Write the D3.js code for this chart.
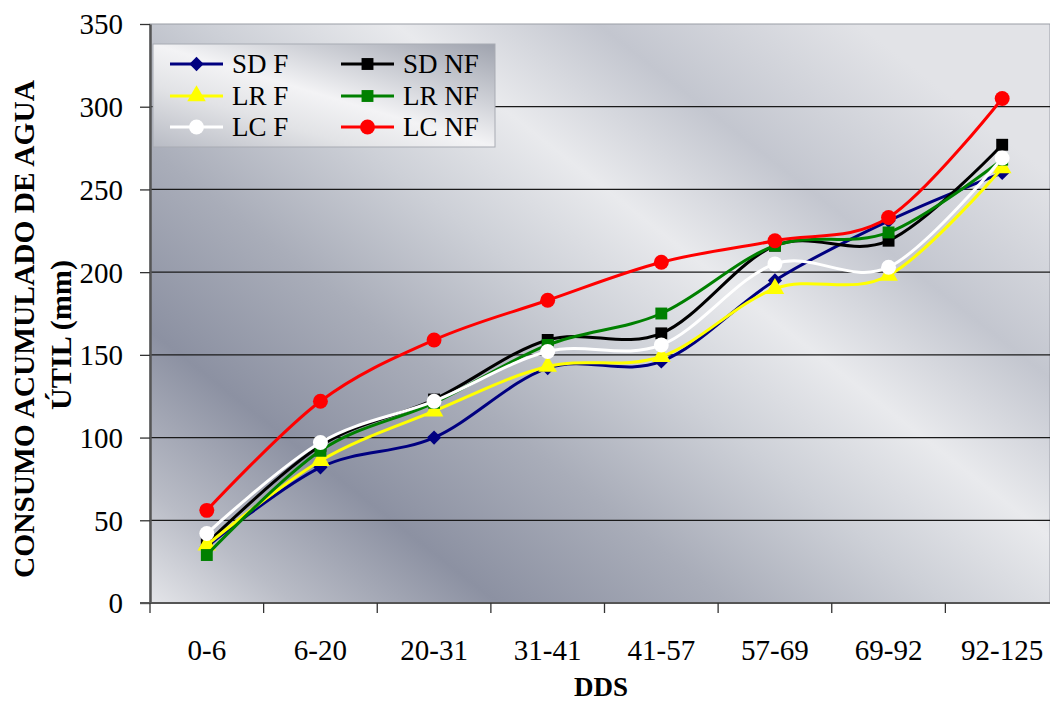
<!DOCTYPE html>
<html>
  <head>
    <meta charset="utf-8">
    <title>Consumo acumulado de agua</title>
    <script src="https://cdnjs.cloudflare.com/ajax/libs/d3/7.8.5/d3.min.js"></script>
    <style>
      body { margin: 0; background: #fff; }
      text { font-family: "Liberation Serif", "Times New Roman", serif; fill: #000; }
    </style>
  </head>
  <body>
    <div id="chart"></div>
    <script type="text/javascript">
      // data
      var categories = ["0-6", "6-20", "20-31", "31-41", "41-57", "57-69", "69-92", "92-125"];
      var yTicks = [0, 50, 100, 150, 200, 250, 300, 350];
      var seriesNames = ["SD F", "SD NF", "LR F", "LR NF", "LC F", "LC NF"];
      var sdF  = [34, 82, 100, 142, 146, 195, 231, 260];
      var sdNF = [36, 95, 123, 159, 163, 216, 219, 277];
      var lrF  = [35, 86, 116, 143, 149, 190, 198, 263];
      var lrNF = [29, 92, 121, 156, 175, 216, 224, 268];
      var lcF  = [42, 97, 122, 152, 156, 205, 203, 269];
      var lcNF = [56, 122, 159, 183, 206, 219, 233, 305];

      var w = 1050, h = 702;
      var plotLeft = 150, plotTop = 24, plotBottom = 603, plotRight = 1059;

      var series = [
        {name: seriesNames[0], values: sdF,  color: "#000080", marker: "diamond"},
        {name: seriesNames[1], values: sdNF, color: "#000000", marker: "square"},
        {name: seriesNames[2], values: lrF,  color: "#ffff00", marker: "triangle"},
        {name: seriesNames[3], values: lrNF, color: "#008000", marker: "square"},
        {name: seriesNames[4], values: lcF,  color: "#ffffff", marker: "circle"},
        {name: seriesNames[5], values: lcNF, color: "#ff0000", marker: "circle"}
      ];

      var svg = d3.select("#chart").append("svg")
        .attr("width", w)
        .attr("height", h);

      var defs = svg.append("defs");
      var bg = defs.append("linearGradient")
        .attr("id", "plotbg")
        .attr("gradientUnits", "userSpaceOnUse")
        .attr("x1", 150).attr("y1", 603)
        .attr("x2", 700).attr("y2", -100);
      [[0, "#e4e5e9"], [0.1, "#b9bcc6"], [0.24, "#8c91a2"], [0.4, "#a9adb9"],
       [0.55, "#cdd0d7"], [0.68, "#e9eaed"], [0.82, "#c3c6cf"], [1, "#e2e3e7"]]
        .forEach(function(s) {
          bg.append("stop").attr("offset", s[0]).attr("stop-color", s[1]);
        });

      var lg = defs.append("linearGradient")
        .attr("id", "legbg")
        .attr("x1", 0).attr("y1", 1).attr("x2", 1).attr("y2", 0);
      [[0, "#b8bbc4"], [0.3, "#e2e3e6"], [0.5, "#f3f3f5"], [0.7, "#d0d2d8"], [1, "#9fa3ae"]]
        .forEach(function(s) {
          lg.append("stop").attr("offset", s[0]).attr("stop-color", s[1]);
        });

      var x = d3.scalePoint()
        .domain(categories)
        .range([plotLeft, plotRight])
        .padding(0.5);

      var y = d3.scaleLinear()
        .domain([0, 350])
        .range([plotBottom, plotTop]);

      // plot area
      svg.append("rect")
        .attr("x", plotLeft).attr("y", plotTop)
        .attr("width", w - plotLeft).attr("height", plotBottom - plotTop)
        .attr("fill", "url(#plotbg)")
        .attr("stroke", "#9a9da6")
        .attr("stroke-width", 1);

      // gridlines
      svg.selectAll("line.grid")
        .data(yTicks.filter(function(d) { return d > 0 && d < 350; }))
        .enter()
        .append("line")
        .attr("class", "grid")
        .attr("x1", plotLeft).attr("x2", w)
        .attr("y1", function(d) { return y(d); })
        .attr("y2", function(d) { return y(d); })
        .attr("stroke", "#1a1a1a")
        .attr("stroke-width", 1.3);

      // y axis
      var yAxis = svg.append("g")
        .attr("transform", "translate(" + plotLeft + ",0)")
        .call(d3.axisLeft(y).tickValues(yTicks).tickSize(10).tickSizeOuter(0).tickPadding(17));
      yAxis.select(".domain").attr("stroke", "#555").attr("stroke-width", 2.5);
      yAxis.selectAll(".tick line").attr("stroke", "#333").attr("stroke-width", 1.3);
      yAxis.selectAll(".tick text")
        .attr("font-size", 29)
        .attr("dy", "0.34em")
        .style("font-family", "Liberation Serif");

      // x axis
      var xAxis = svg.append("g")
        .attr("transform", "translate(0," + plotBottom + ")");
      xAxis.append("line")
        .attr("x1", plotLeft - 10).attr("x2", w)
        .attr("y1", 0).attr("y2", 0)
        .attr("stroke", "#555").attr("stroke-width", 2);
      var step = x.step();
      xAxis.selectAll("line.xt")
        .data(categories)
        .enter()
        .append("line")
        .attr("class", "xt")
        .attr("x1", function(d) { return x(d) - step / 2; })
        .attr("x2", function(d) { return x(d) - step / 2; })
        .attr("y1", 0).attr("y2", 10)
        .attr("stroke", "#333").attr("stroke-width", 1.3);
      xAxis.selectAll("text")
        .data(categories)
        .enter()
        .append("text")
        .attr("x", function(d) { return x(d); })
        .attr("y", 57)
        .attr("text-anchor", "middle")
        .attr("font-size", 29)
        .text(function(d) { return d; });

      // axis titles
      svg.append("text")
        .attr("x", 601).attr("y", 696)
        .attr("text-anchor", "middle")
        .attr("font-size", 27)
        .attr("font-weight", "bold")
        .text("DDS");

      var yt = svg.append("g").attr("transform", "rotate(-90)");
      yt.append("text")
        .attr("x", -329).attr("y", 34)
        .attr("text-anchor", "middle")
        .attr("font-size", 29)
        .attr("font-weight", "bold")
        .attr("textLength", 498)
        .attr("lengthAdjust", "spacingAndGlyphs")
        .text("CONSUMO ACUMULADO DE AGUA");
      yt.append("text")
        .attr("x", -335).attr("y", 71)
        .attr("text-anchor", "middle")
        .attr("font-size", 29)
        .attr("font-weight", "bold")
        .attr("textLength", 150)
        .attr("lengthAdjust", "spacingAndGlyphs")
        .text("ÚTIL (mm)");

      function markerPath(type) {
        if (type === "diamond") return d3.symbol().type(d3.symbolDiamond2).size(130)();
        if (type === "square") return d3.symbol().type(d3.symbolSquare2).size(180)();
        if (type === "triangle") return d3.symbol().type(d3.symbolTriangle).size(150)();
        return d3.symbol().type(d3.symbolCircle).size(175)();
      }

      var line = d3.line()
        .x(function(d, i) { return x(categories[i]); })
        .y(function(d) { return y(d); })
        .curve(d3.curveCatmullRom.alpha(0));

      series.forEach(function(s) {
        var g = svg.append("g");
        g.append("path")
          .attr("d", line(s.values))
          .attr("fill", "none")
          .attr("stroke", s.color)
          .attr("stroke-width", 3);
        g.selectAll("path.mk")
          .data(s.values)
          .enter()
          .append("path")
          .attr("class", "mk")
          .attr("d", markerPath(s.marker))
          .attr("transform", function(d, i) {
            return "translate(" + x(categories[i]) + "," + y(d) + ")";
          })
          .attr("fill", s.color);
      });

      // legend
      var legend = svg.append("g");
      legend.append("rect")
        .attr("x", 153).attr("y", 44)
        .attr("width", 342).attr("height", 103)
        .attr("fill", "url(#legbg)")
        .attr("stroke", "#a8abb3")
        .attr("stroke-width", 1);
      var legX = [170, 341], legY = [64, 96, 127];
      series.forEach(function(s, i) {
        var lx = legX[i % 2], ly = legY[Math.floor(i / 2)];
        legend.append("line")
          .attr("x1", lx).attr("x2", lx + 53)
          .attr("y1", ly).attr("y2", ly)
          .attr("stroke", s.color)
          .attr("stroke-width", 3);
        legend.append("path")
          .attr("d", markerPath(s.marker))
          .attr("transform", "translate(" + (lx + 26.5) + "," + ly + ")")
          .attr("fill", s.color);
        legend.append("text")
          .attr("x", lx + 62).attr("y", ly + 9)
          .attr("font-size", 27)
          .text(s.name);
      });
    </script>
  </body>
</html>
